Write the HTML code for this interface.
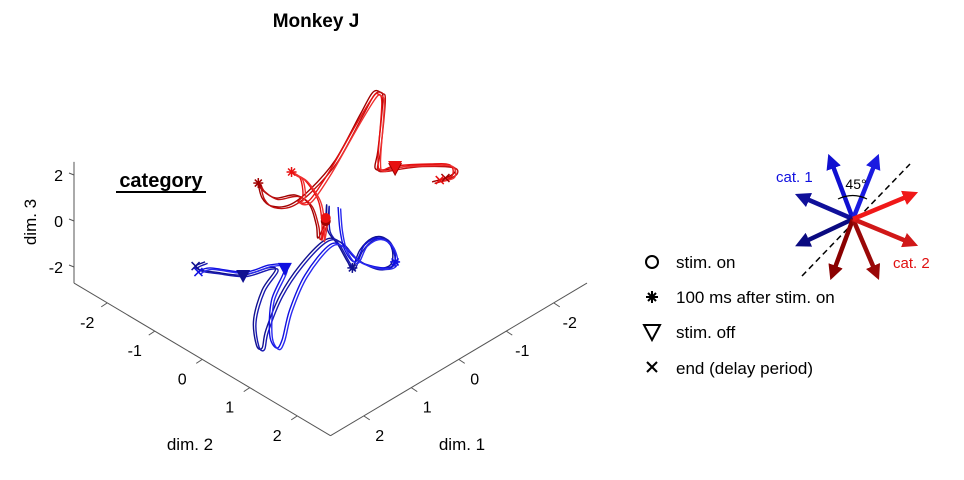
<!DOCTYPE html>
<html><head><meta charset="utf-8"><style>
html,body{margin:0;padding:0;background:#fff;}
svg{display:block;font-family:"Liberation Sans",sans-serif;}
</style></head><body>
<svg id="chart" width="964" height="480" viewBox="0 0 964 480">
<text x="316" y="27" text-anchor="middle" font-size="19" font-weight="bold">Monkey J</text>
<g id="axes"></g>
<g id="traces"></g>
<g id="marks"></g>
<text x="161" y="187" text-anchor="middle" font-size="20" font-weight="bold">category</text>
<line x1="116" y1="192" x2="206" y2="192" stroke="#000" stroke-width="2"/>
<text x="36" y="222" text-anchor="middle" font-size="17" transform="rotate(-90 36 222)">dim. 3</text>
<text x="190" y="450" text-anchor="middle" font-size="17">dim. 2</text>
<text x="462" y="450" text-anchor="middle" font-size="17">dim. 1</text>

<g>
 <g>
  <circle cx="652" cy="262" r="6" fill="none" stroke="#000" stroke-width="2"/>
  <text x="676" y="268" font-size="17">stim. on</text></g>
 <g>
  <g stroke="#000" stroke-width="2"><line x1="646" y1="297" x2="658" y2="297"/><line x1="652" y1="291" x2="652" y2="303"/><line x1="648" y1="293" x2="656" y2="301"/><line x1="656" y1="293" x2="648" y2="301"/></g>
  <text x="676" y="303" font-size="17">100 ms after stim. on</text></g>
 <g>
  <polygon points="644,325 660,325 652,340" fill="none" stroke="#000" stroke-width="2"/>
  <text x="676" y="338" font-size="17">stim. off</text></g>
 <g>
  <g stroke="#000" stroke-width="2"><line x1="647" y1="362" x2="657" y2="372"/><line x1="657" y1="362" x2="647" y2="372"/></g>
  <text x="676" y="374" font-size="17">end (delay period)</text></g>
</g>

<g>
 <defs>
  <marker id="ah" viewBox="0 0 10 10" refX="5" refY="5" markerWidth="3.4" markerHeight="3.4" orient="auto"><path d="M0,0 L10,5 L0,10 z" fill="context-stroke"/></marker>
 </defs>
 <line x1="802" y1="276" x2="910" y2="164" stroke="#000" stroke-width="1.5" stroke-dasharray="6,4"/>
 <g stroke-width="4.5" marker-end="url(#ah)" fill="none">
  <line x1="853" y1="219" x2="831" y2="161" stroke="#1010d0"/>
  <line x1="853" y1="219" x2="876" y2="161" stroke="#1a1ae0"/>
  <line x1="853" y1="219" x2="802" y2="197" stroke="#10109a"/>
  <line x1="853" y1="219" x2="802" y2="243" stroke="#0a0a80"/>
  <line x1="853" y1="219" x2="833" y2="273" stroke="#8a0000"/>
  <line x1="853" y1="219" x2="876" y2="273" stroke="#9a0808"/>
  <line x1="853" y1="219" x2="911" y2="243" stroke="#d01818"/>
  <line x1="853" y1="219" x2="911" y2="195" stroke="#f01818"/>
 </g>
 <path d="M838,199 Q853,192 867,199" fill="none" stroke="#000" stroke-width="1.2"/>
 <text x="856" y="189" text-anchor="middle" font-size="14">45°</text>
 <text x="776" y="182" font-size="15" fill="#1010e0">cat. 1</text>
 <text x="893" y="268" font-size="15" fill="#e01010">cat. 2</text>
</g>
</svg>
<script>
// tick labels
const zTicks = [-2, 0, 2];
const d1Ticks = [-2, -1, 0, 1, 2];
const d2Ticks = [-2, -1, 0, 1, 2];
const axLim = 2.7;
const zMin = -2.7, zMax = 2.57;
// trajectories [dim2 values], [dim3 values] (dim1 = -dim2 for these traces)
const red1D2 = [-0.05,-0.13,-0.15,-0.22,-0.37,-0.58,-0.72,-0.76,-0.72,-0.62,-0.43,-0.22,0.05,0.31,0.44,0.52,0.55,0.50,0.47,0.57,0.68,0.94,1.26,1.31,1.21,1.07];
const red1D3 = [0,-0.74,-0.17,0.70,1.13,1.00,1.35,1.65,1.00,0.65,0.70,1.35,2.65,4.61,5.57,5.61,5.26,3.09,2.30,2.22,2.30,2.43,2.39,2.13,1.87,1.70];
const red2D2 = [-0.05,-0.09,-0.09,-0.13,-0.27,-0.37,-0.41,-0.32,-0.29,-0.34,-0.22,-0.01,0.26,0.44,0.50,0.54,0.50,0.54,0.68,1.05,1.26,1.28,1.15];
const red2D3 = [0.13,-0.83,-0.04,0.91,1.78,2.00,2.13,1.87,1.13,0.83,0.91,2.17,4.13,5.35,5.52,5.09,2.65,2.22,2.39,2.48,2.43,1.96,1.78];
const blue1D2 = [-0.05,-0.04,-0.03,0.08,0.18,0.23,0.31,0.44,0.57,0.65,0.63,0.47,0.26,0.10,-0.06,-0.32,-0.53,-0.68,-0.72,-0.78,-0.81,-0.72,-0.58,-0.66,-0.92,-1.22,-1.37,-1.42,-1.32];
const blue1D3 = [-0.04,0.70,-0.39,-1.04,-1.78,-2.04,-1.26,-0.74,-0.74,-1.26,-1.91,-2.04,-1.61,-0.91,-0.83,-1.91,-3.22,-4.74,-5.52,-5.39,-4.30,-3.00,-2.13,-2.04,-2.35,-2.22,-2.13,-1.96,-1.78];
const blue2D2 = [0.08,0.10,0.15,0.26,0.36,0.50,0.63,0.68,0.57,0.31,0.15,-0.01,-0.27,-0.43,-0.51,-0.57,-0.64,-0.62,-0.48,-0.64,-0.90,-1.27,-1.39];
const blue2D3 = [0.61,-0.39,-1.26,-1.78,-1.04,-0.74,-1.04,-1.78,-2.04,-1.78,-1.17,-1.04,-2.35,-3.87,-5.17,-5.52,-4.96,-3.43,-2.04,-1.91,-2.22,-2.04,-2.22];
// event indices: [stim on, 100ms, stim off, end]
const red1Events = [0, 7, 20, 24];
const red2Events = [0, 6, 18, 22];
const blue1Events = [null, 5, 24, 27];
const blue2Events = [null, 7, 18, 22];

const NS = "http://www.w3.org/2000/svg";
function px(d1, d2, d3){ return [330.5 + 47.5*(d2 - d1), 221 + 28.25*(d1 + d2) - 23*d3]; }
function mk(tag, attrs, parent){ const e = document.createElementNS(NS, tag); for (const k in attrs) e.setAttribute(k, attrs[k]); parent.appendChild(e); return e; }
const axes = document.getElementById('axes');
const grey = '#555';
let A = px(axLim, -axLim, zMin), B = px(axLim, axLim, zMin), C = px(-axLim, axLim, zMin), T = px(axLim, -axLim, zMax);
let ln = mk('line', {x1:A[0], y1:A[1], x2:T[0], y2:T[1], stroke:grey, 'stroke-width':1}, axes);


ln = mk('line', {x1:A[0], y1:A[1], x2:B[0], y2:B[1], stroke:grey, 'stroke-width':1}, axes);


ln = mk('line', {x1:B[0], y1:B[1], x2:C[0], y2:C[1], stroke:grey, 'stroke-width':1}, axes);


zTicks.forEach(v => {
  const p = px(axLim, -axLim, v);
  mk('line', {x1:p[0], y1:p[1], x2:p[0]-5, y2:p[1]-2, stroke:grey}, axes);
  const t = mk('text', {x:p[0]-11, y:p[1]+6, 'text-anchor':'end', 'font-size':16}, axes);
  
  
  t.textContent = v;
});
d2Ticks.forEach(v => {
  const p = px(axLim, v, zMin);
  mk('line', {x1:p[0], y1:p[1], x2:p[0]-6, y2:p[1]+4, stroke:grey}, axes);
  const t = mk('text', {x:p[0]-20, y:p[1]+25, 'text-anchor':'middle', 'font-size':16}, axes);
  
  
  t.textContent = v;
});
d1Ticks.forEach(v => {
  const p = px(v, axLim, zMin);
  mk('line', {x1:p[0], y1:p[1], x2:p[0]+6, y2:p[1]+4, stroke:grey}, axes);
  const t = mk('text', {x:p[0]+16, y:p[1]+25, 'text-anchor':'middle', 'font-size':16}, axes);
  
  
  t.textContent = v;
});
function smooth(pts){
  let d = 'M' + pts[0][0].toFixed(1) + ',' + pts[0][1].toFixed(1);
  for (let i = 0; i < pts.length - 1; i++){
    const p0 = pts[Math.max(0,i-1)], p1 = pts[i], p2 = pts[i+1], p3 = pts[Math.min(pts.length-1,i+2)];
    const c1 = [p1[0]+(p2[0]-p0[0])/6, p1[1]+(p2[1]-p0[1])/6], c2 = [p2[0]-(p3[0]-p1[0])/6, p2[1]-(p3[1]-p1[1])/6];
    d += 'C' + c1.map(v=>v.toFixed(1)).join(',') + ' ' + c2.map(v=>v.toFixed(1)).join(',') + ' ' + p2[0].toFixed(1) + ',' + p2[1].toFixed(1);
  }
  return d;
}
const tr = document.getElementById('traces'), mg = document.getElementById('marks');
function drawTrace(d2s, d3s, colors, events, name){
  const pts = d2s.map((v,i) => px(-v, v, d3s[i]));
  const d = smooth(pts);
  colors.forEach((c, k) => {
    const p = mk('path', {d:d, fill:'none', stroke:c, 'stroke-width':1.4, transform:'translate(' + (k*2.5) + ',' + (k*1.5) + ')'}, tr);
    
    
  });
  const col = colors[0];
  events.forEach((idx, k) => {
    if (idx === null) return;
    const q = pts[idx];
    let g;
    if (k === 0){ g = mk('circle', {cx:q[0], cy:q[1], r:5, fill:col}, mg); }
    else if (k === 1){
      g = mk('g', {stroke:col, 'stroke-width':1.5}, mg);
      mk('line', {x1:q[0]-5, y1:q[1], x2:q[0]+5, y2:q[1]}, g);
      mk('line', {x1:q[0], y1:q[1]-5, x2:q[0], y2:q[1]+5}, g);
      mk('line', {x1:q[0]-3.5, y1:q[1]-3.5, x2:q[0]+3.5, y2:q[1]+3.5}, g);
      mk('line', {x1:q[0]+3.5, y1:q[1]-3.5, x2:q[0]-3.5, y2:q[1]+3.5}, g);
    } else if (k === 2){
      g = mk('polygon', {points:(q[0]-7)+','+(q[1]-5)+' '+(q[0]+7)+','+(q[1]-5)+' '+q[0]+','+(q[1]+8), fill:col}, mg);
    } else {
      g = mk('g', {stroke:col, 'stroke-width':1.5}, mg);
      mk('line', {x1:q[0]-4, y1:q[1]-4, x2:q[0]+4, y2:q[1]+4}, g);
      mk('line', {x1:q[0]+4, y1:q[1]-4, x2:q[0]-4, y2:q[1]+4}, g);
    }
    
    
  });
}
drawTrace(blue1D2, blue1D3, ['#101090','#1818b0'], blue1Events, 'cat1-dark');
drawTrace(blue2D2, blue2D3, ['#1010e0','#2a2af0'], blue2Events, 'cat1-light');
drawTrace(red1D2, red1D3, ['#a00000','#c01010'], red1Events, 'cat2-dark');
drawTrace(red2D2, red2D3, ['#e81010','#f03030'], red2Events, 'cat2-light');
</script>
</body></html>
